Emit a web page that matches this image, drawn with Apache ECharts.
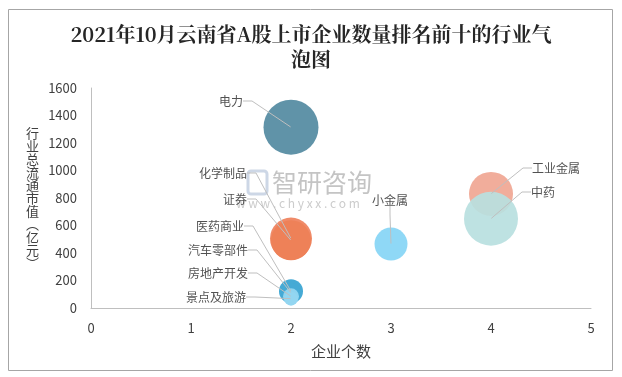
<!DOCTYPE html>
<html>
<head>
<meta charset="utf-8">
<script src="https://cdn.jsdelivr.net/npm/echarts@6/dist/echarts.min.js"></script>
<style>
html,body{margin:0;padding:0;background:#fff;}
#c{width:622px;height:377px;}
</style>
</head>
<body>
<div id="c"></div>
<script>
// ---- data ----
var categories = ['电力','化学制品','证券','医药商业','汽车零部件','房地产开发','景点及旅游','小金属','工业金属','中药'];
var companyCounts = [2, 2, 2, 2, 2, 2, 2, 3, 4, 4];
var marketValues = [1315, 505, 492, 122, 110, 85, 68, 465, 830, 650];
var bubbleSizes = [55, 42, 40, 24, 20, 16, 14, 33, 44, 54];
var xTicks = [0, 1, 2, 3, 4, 5];
var yTicks = [0, 200, 400, 600, 800, 1000, 1200, 1400, 1600];

// ---- styles ----
var colors = ['#6093a8','#f08b69','#ee8158','#46aad5','#46aad5','#8fd4f0','#93d6f1','#8fd8f6','#f1ad9b','#b9e0df'];
var opac  = [1,1,1,1,1,1,1,1,1,0.92];
var labelPos = {
  '电力':[243,101,'right'],
  '化学制品':[247,173,'right'],
  '证券':[247,199,'right'],
  '医药商业':[244,226,'right'],
  '汽车零部件':[248,250,'right'],
  '房地产开发':[248,273,'right'],
  '景点及旅游':[246,297,'right'],
  '小金属':[390,200,'center'],
  '工业金属':[532,168,'left'],
  '中药':[531,192,'left']
};

var bubbleData = categories.map(function(n,i){
  return {name:n, value:[companyCounts[i], marketValues[i], bubbleSizes[i]],
    itemStyle:{color:colors[i], opacity:opac[i]}};
});
var anchorData = categories.map(function(n,i){
  return {name:n, value:[companyCounts[i], marketValues[i]]};
});

var chart = echarts.init(document.getElementById('c'), null, {renderer:'canvas'});
var fontCJK = '"Microsoft YaHei","Noto Sans CJK SC","Noto Sans",sans-serif';
chart.setOption({
  animation:false,
  backgroundColor:'#fff',
  title:{
    text:'2021年10月云南省A股上市企业数量排名前十的行业气\n泡图',
    left:'center', top:17,
    textStyle:{fontSize:20, fontWeight:'bold', color:'#262626', lineHeight:25,
      fontFamily:'"Noto Serif CJK SC","DejaVu Serif",serif'}
  },
  grid:{left:91, right:31, top:88, bottom:69, containLabel:false},
  xAxis:{
    type:'value', min:0, max:5, interval:1,
    name:'企业个数', nameLocation:'middle', nameGap:36,
    nameTextStyle:{fontSize:15, color:'#404040', fontFamily:fontCJK},
    axisLine:{show:true, lineStyle:{color:'#bfbfbf', width:1}},
    axisTick:{show:false},
    splitLine:{show:false},
    axisLabel:{fontSize:13, color:'#404040', margin:14, fontFamily:fontCJK,
      formatter:function(v){ return xTicks.indexOf(v)>=0 ? String(v) : ''; }}
  },
  yAxis:{
    type:'value', min:0, max:1600, interval:200,
    name:'行\n业\n总\n流\n通\n市\n值\n︵\n亿\n元\n︶', nameLocation:'middle', nameGap:52, nameRotate:0,
    nameTextStyle:{fontSize:13, lineHeight:13, color:'#404040', fontFamily:fontCJK},
    axisLine:{show:true, lineStyle:{color:'#bfbfbf', width:1}},
    axisTick:{show:false},
    splitLine:{show:false},
    axisLabel:{fontSize:13, color:'#404040', margin:14, fontFamily:fontCJK,
      formatter:function(v){ return yTicks.indexOf(v)>=0 ? String(v) : ''; }}
  },
  graphic:[
    {type:'rect', shape:{x:8.5, y:9.5, width:604, height:361}, style:{fill:null, stroke:'#a6a6a6', lineWidth:1}, z:-10, silent:true},
    {type:'rect', shape:{x:248, y:171, width:19, height:23, r:3}, style:{fill:null, stroke:'#cdd7e6', lineWidth:3}, z:-5, silent:true},
    {type:'text', x:272, y:170, style:{text:'智研咨询', fontSize:25, fill:'#c4c4c4', fontFamily:fontCJK}, z:-5, silent:true},
    {type:'text', x:236, y:197, style:{text:'w w w . c h y x x . c o m', fontSize:12, fill:'#cccccc', fontFamily:fontCJK}, z:-5, silent:true}
  ],
  series:[
    {
      type:'scatter', data:bubbleData,
      symbolSize:function(v){ return v[2]; },
      label:{show:false},
      silent:true, z:2
    },
    {
      type:'scatter', data:anchorData,
      symbolSize:1,
      itemStyle:{color:'rgba(0,0,0,0)'},
      silent:true, z:5,
      label:{show:true, formatter:'{b}', fontSize:12, color:'#262626', fontFamily:fontCJK, position:'right'},
      labelLine:{show:true, length2:9, lineStyle:{color:'#bfbfbf', width:1}},
      labelLayout:function(p){
        var lp = labelPos[categories[p.dataIndex]];
        return {x:lp[0], y:lp[1], align:lp[2], verticalAlign:'middle'};
      }
    }
  ]
});
</script>
</body>
</html>
